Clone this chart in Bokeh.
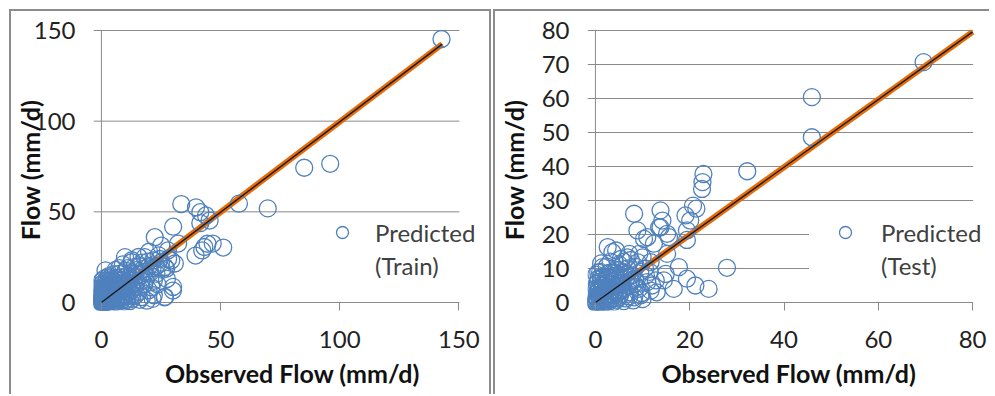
from bokeh.plotting import figure
from bokeh.layouts import row
from bokeh.models import Span, Legend, LegendItem, FixedTicker
from bokeh.embed import file_html
from bokeh.resources import INLINE

# ---------------- data ----------------
train_obs = [142.7, 85.1, 96.0, 57.7, 69.8, 33.5, 39.7, 41.5, 43.9, 45.4, 41.5, 30.1, 46.7, 51.1,
             43.2, 39.5, 32.2, 44.5, 42.3, 22.4, 25.1, 27.9, 29.3, 21.7, 18.2, 12.7, 9.9, 1.7,
             30.0, 26.5, 21.0, 16.9, 23.1, 27.2, 7.2, 14.1, 11.3, 7.2, 15.5, 9.9, 30.8, 26.7,
             30.1, 26.7, 19.8, 12.8, 15.6,
             20.0, 18.0, 24.0, 15.0, 13.0, 17.0, 22.0, 25.0, 28.0, 19.0, 11.0, 8.0, 14.0, 12.0,
             18.0, 23.0, 20.0, 16.0, 10.0, 9.0, 6.0, 13.0, 17.0, 11.0, 19.0, 22.0, 8.0, 5.0,
             4.0, 3.0, 6.0,
             0.2, 0.5, 0.8, 1.0, 1.2, 1.5, 0.3, 0.6, 2.0, 2.2, 2.5, 1.8, 0.9, 3.0, 3.2, 3.5,
             0.4, 1.1, 2.8, 4.0, 4.2, 4.5, 0.7, 1.6, 2.4, 3.8, 5.0, 5.2, 5.5, 6.0, 6.2, 6.5,
             0.2, 1.3, 2.9, 4.8, 7.0, 7.2, 7.5, 8.0, 8.3, 8.5, 0.1, 0.6, 1.4, 1.9, 2.6, 3.3,
             0.3, 0.9, 1.7, 2.3, 3.1, 3.9, 4.4, 5.8, 6.8, 9.0, 9.5, 10.0, 10.5, 9.2, 7.8, 5.5,
             3.5, 2.0, 0.5, 1.0, 11.5, 12.0, 8.8, 11.0, 13.0, 6.5, 4.2, 0.0, 0.1, 0.4, 2.1, 3.6,
             0.5, 1.2, 2.0, 2.8, 3.6, 4.6, 5.6, 6.4, 7.4, 8.2, 1.5, 0.8, 2.6, 4.0, 6.0, 9.8,
             10.8, 12.5, 13.5, 14.5, 11.8, 8.5, 5.0, 3.0, 15.8, 16.5, 18.5, 20.5, 21.5, 24.5,
             19.5, 17.5, 13.8, 10.2, 7.5, 25.5, 27.5, 23.5, 21.5, 16.0, 14.0, 9.5, 12.0, 6.0,
             5.0, 7.0, 3.0, 4.0, 6.8, 8.0, 10.5, 1.0, 2.5, 0.3, 0.2, 0.1, 1.9, 0.7, 1.3, 2.4]
train_pred = [145.3, 74.3, 76.5, 54.5, 51.9, 54.3, 52.5, 49.8, 48.0, 45.2, 43.8, 41.8, 32.5, 30.3,
              30.6, 25.9, 32.5, 32.4, 28.7, 36.0, 31.4, 28.7, 23.2, 23.2, 25.0, 22.2, 25.0, 17.7,
              6.6, 2.9, 8.4, 12.1, 15.8, 18.6, 15.8, 14.0, 10.3, 8.4, 5.7, 3.9, 21.5, 19.6,
              8.6, 3.1, 6.8, 23.3, 25.1,
              20.0, 17.0, 26.0, 18.0, 16.0, 22.0, 12.0, 22.0, 24.0, 14.0, 19.0, 12.0, 9.0, 6.0,
              10.0, 20.0, 28.0, 20.0, 14.0, 21.0, 18.0, 2.0, 3.0, 1.5, 1.0, 4.0, 2.0, 12.0,
              14.0, 10.0, 9.0,
              0.3, 0.1, 1.2, 0.5, 2.0, 0.8, 1.5, 2.5, 1.0, 3.0, 0.4, 4.0, 3.5, 2.0, 4.5, 1.2,
              4.8, 5.5, 5.8, 3.0, 0.8, 5.0, 6.5, 7.0, 6.8, 7.2, 2.2, 6.0, 4.0, 1.0, 7.5, 3.2,
              8.0, 8.8, 9.2, 8.5, 5.5, 2.5, 8.0, 6.5, 4.0, 1.2, 0.9, 0.6, 1.6, 2.4, 1.8, 3.3,
              2.2, 0.2, 0.3, 0.2, 0.6, 1.9, 2.6, 5.2, 6.2, 9.5, 7.0, 4.5, 11.0, 12.5, 10.5, 10.0,
              11.5, 12.0, 10.5, 13.0, 8.0, 12.5, 2.8, 3.5, 4.0, 13.5, 12.8, 0.0, 3.0, 7.0, 8.0, 9.8,
              1.8, 3.2, 4.8, 3.6, 5.6, 4.2, 6.8, 5.0, 6.8, 9.0, 5.8, 7.8, 10.5, 10.0, 9.0, 6.0,
              8.8, 9.5, 12.0, 11.0, 14.5, 14.0, 15.5, 14.5, 15.5, 8.5, 12.5, 16.5, 19.0, 24.0,
              22.5, 18.5, 19.5, 17.5, 19.0, 18.0, 13.0, 10.0, 2.0, 1.5, 3.5, 0.5, 0.8, 0.3,
              1.5, 1.0, 0.8, 6.5, 3.8, 3.2, 2.0, 10.0, 13.5, 12.0, 5.0, 2.0, 0.7, 0.8, 0.1, 2.6]

test_obs = [69.6, 45.9, 45.9, 32.2, 22.9, 22.7, 22.6, 20.7, 21.4, 19.1, 20.1, 19.4, 19.4, 8.2,
            13.8, 14.2, 13.8, 8.9, 10.3, 15.2, 12.4, 15.2, 2.6, 3.6, 27.9, 17.7, 19.4, 21.2,
            24.0, 16.6, 14.5, 11.7, 9.3, 6.8, 5.4, 1.5, 2.5, 11.7, 9.6, 8.2, 10.7, 6.5, 13.5,
            15.6, 11.0, 10.0, 7.2, 12.8, 14.9, 4.4, 4.0, 1.2,
            0.1, 0.3, 0.5, 0.8, 1.0, 1.2, 1.5, 0.2, 0.4, 1.8, 2.0, 2.3, 0.7, 1.4, 2.6, 3.0,
            3.2, 0.3, 1.1, 2.2, 3.5, 3.8, 4.2, 4.5, 0.6, 1.7, 2.8, 4.8, 5.2, 5.5, 6.0, 6.3,
            0.2, 7.0, 7.3, 7.8, 8.2, 0.9, 1.6, 2.5, 3.4, 0.05, 0.6, 1.3, 2.9, 4.0, 5.8, 6.6,
            8.8, 9.5, 9.8, 5.0, 3.0, 1.0, 6.8, 4.0, 0.0,
            0.4, 1.0, 1.6, 2.2, 2.8, 3.4, 4.0, 4.6, 5.2, 5.8, 0.8, 1.4, 2.0, 2.6, 3.6, 0.5,
            0.2, 1.9, 3.0, 3.9, 4.8, 5.6, 6.4, 7.0, 7.6, 8.4, 6.2, 4.4, 2.4, 1.2, 0.6, 3.2,
            5.0, 6.0, 7.5, 8.6, 9.0, 10.5, 11.5, 12.0, 13.0, 10.0, 8.0, 6.0, 5.0, 7.2, 9.2,
            11.0, 4.0, 2.2]
test_pred = [70.7, 60.4, 48.6, 38.6, 37.8, 35.4, 33.4, 28.5, 27.6, 25.6, 24.1, 21.2, 18.4, 26.1,
             27.1, 24.1, 22.1, 21.2, 18.7, 20.2, 17.3, 14.3, 16.3, 14.8, 10.2, 10.4, 7.0, 5.0,
             4.0, 4.0, 6.5, 11.9, 14.3, 13.3, 12.8, 10.4, 7.4, 3.5, 2.1, 5.5, 7.9, 8.4, 22.1,
             19.2, 19.2, 13.3, 14.3, 6.5, 8.4, 15.3, 8.9, 7.4,
             0.2, 0.8, 0.3, 1.5, 0.6, 2.4, 1.0, 1.8, 3.0, 3.2, 1.4, 0.5, 4.2, 4.8, 2.6, 4.0,
             1.0, 5.5, 6.2, 5.6, 6.0, 2.2, 3.6, 0.8, 7.0, 7.6, 7.2, 5.4, 2.0, 7.0, 4.2, 1.2,
             8.2, 6.0, 3.0, 8.0, 1.5, 0.1, 0.2, 1.9, 3.2, 0.5, 2.2, 3.7, 0.3, 4.8, 5.6, 7.4,
             4.6, 9.0, 2.8, 9.5, 8.8, 9.0, 10.0, 0.2, 0.0,
             1.2, 2.0, 2.8, 3.6, 4.4, 5.2, 6.2, 7.0, 8.0, 9.0, 3.4, 5.2, 6.6, 8.4, 7.8, 6.0,
             4.0, 1.0, 1.6, 1.2, 2.8, 3.6, 2.4, 4.8, 6.6, 7.0, 8.8, 9.6, 10.6, 11.5, 8.8, 12.0,
             11.2, 12.0, 12.5, 10.5, 11.8, 10.0, 9.0, 5.0, 3.0, 1.0, 0.6, 0.4, 1.4, 1.8, 4.0,
             6.0, 3.0, 0.1]

train_line_x = [0, 143.0]
train_line_y = [0, 142.5]
test_line_x = [0, 80.0]
test_line_y = [0, 79.6]

train_x_ticks = [0, 50, 100, 150]
train_y_ticks = [0, 50, 100, 150]
test_x_ticks = [0, 20, 40, 60, 80]
test_y_ticks = [0, 10, 20, 30, 40, 50, 60, 70, 80]

x_title = "Observed Flow (mm/d)"
y_title = "Flow (mm/d)"

# ---------------- styling ----------------
FONT = "Lato"
BLUE = "#4F81BD"
ORANGE = "#E46C0A"
GRID = "#8a8a8a"
BOX = "#8c8c8c"


def panel(obs, pred, lx, ly, xt, yt, label2, g, styles):
    cw, ch = g["w"], g["h"]
    mbl, mbr, mbt, mbb = g["mbl"], g["mbr"], g["mbt"], g["mbb"]
    fl, fr = mbl, cw - mbr          # frame left/right (canvas px)
    ft, fb = mbt, ch - mbb          # frame top/bottom
    xmax, ymax = xt[-1], yt[-1]
    sx = (g["x1"] - g["x0"]) / xmax
    sy = (g["y0"] - g["y1"]) / ymax
    xr = ((fl - g["x0"]) / sx, (fr - g["x0"]) / sx)
    yr = ((g["y0"] - fb) / sy, (g["y0"] - ft) / sy)
    p = figure(width=cw, height=ch, x_range=xr, y_range=yr,
               output_backend="svg", toolbar_location=None,
               min_border_left=mbl, min_border_right=mbr,
               min_border_top=mbt, min_border_bottom=mbb)
    p.styles = styles
    p.outline_line_color = None
    p.background_fill_color = "white"
    p.border_fill_color = "white"
    p.xgrid.visible = False
    p.ygrid.visible = False

    # horizontal gridlines from the tick list, starting at the frame's left edge
    n = len(yt)
    p.segment(x0=[xr[0]] * n, x1=[xmax + g["gext"]] * n, y0=yt, y1=yt,
              line_color=GRID, line_width=1, level="underlay")
    p.add_layout(Span(location=0, dimension="height", line_color=GRID,
                      line_width=1, level="underlay"))

    p.xaxis.ticker = FixedTicker(ticks=xt)
    p.yaxis.ticker = FixedTicker(ticks=yt)
    for ax in (p.xaxis[0], p.yaxis[0]):
        ax.axis_line_color = None
        ax.minor_tick_line_color = None
        ax.major_label_text_font = FONT
        ax.major_label_text_font_size = "24px"
        ax.major_label_text_color = "#222222"
        ax.axis_label_text_font = FONT
        ax.axis_label_text_font_size = "25px"
        ax.axis_label_text_font_style = "bold"
        ax.axis_label_text_color = "#111111"
        ax.major_label_standoff = 18
    p.xaxis.major_tick_in = 8
    p.xaxis.major_tick_out = 0
    p.xaxis.major_tick_line_color = GRID
    p.xaxis.major_label_standoff = 20
    p.xaxis.axis_label = x_title
    p.xaxis.axis_label_standoff = 7
    p.yaxis.major_tick_line_color = None
    p.yaxis.major_tick_in = 0
    p.yaxis.major_tick_out = 0
    p.yaxis.axis_label = y_title
    p.yaxis.axis_label_standoff = g["ylab"]

    p.line(lx, ly, line_color=ORANGE, line_width=6)
    sc = p.scatter(obs, pred, marker="circle", size=17, fill_color=None,
                   line_color=BLUE, line_width=1.3)
    p.line(lx, ly, line_color="#1a1a1a", line_width=1.4)
    dummy = p.scatter([], [], marker="circle", size=0, line_alpha=0, fill_alpha=0)

    leg = Legend(items=[LegendItem(label="Predicted", renderers=[sc]),
                        LegendItem(label=label2, renderers=[dummy])],
                 location=(g["legx"], 30), margin=0, padding=19, spacing=3,
                 glyph_width=g["gw"], glyph_height=30, label_height=30,
                 label_standoff=g["legs"],
                 border_line_color=None, background_fill_color="white",
                 background_fill_alpha=1.0,
                 label_text_font=FONT, label_text_font_size="24px",
                 label_text_color="#404040")
    p.add_layout(leg)
    return p


# canvas geometry (canvas px); x0/x1 = pixel of 0 and last tick, y0/y1 likewise
left_geom = dict(w=482, h=385, mbl=77, mbr=2, mbt=18, mbb=86,
                 x0=85, x1=447, y0=291, y1=19, gext=0.2, ylab=-14,
                 legx=216, gw=66, legs=0)
right_geom = dict(w=496, h=385, mbl=89, mbr=1, mbt=18, mbb=86,
                  x0=97, x1=477, y0=291, y1=19, gext=0.1, ylab=10,
                  legx=222, gw=72, legs=0)

p1 = panel(train_obs, train_pred, train_line_x, train_line_y, train_x_ticks, train_y_ticks,
           "(Train)", left_geom,
           {"margin-left": "9px", "margin-top": "9px",
            "border-left": f"2px solid {BOX}", "border-top": f"2px solid {BOX}",
            "border-right": f"2px solid {BOX}"})
p2 = panel(test_obs, test_pred, test_line_x, test_line_y, test_x_ticks, test_y_ticks,
           "(Test)", right_geom,
           {"margin-left": "2px", "margin-top": "9px",
            "border-left": f"2px solid {BOX}", "border-top": f"2px solid {BOX}"})

layout = row(p1, p2, spacing=0)
open("out.html", "w").write(file_html(layout, INLINE))
